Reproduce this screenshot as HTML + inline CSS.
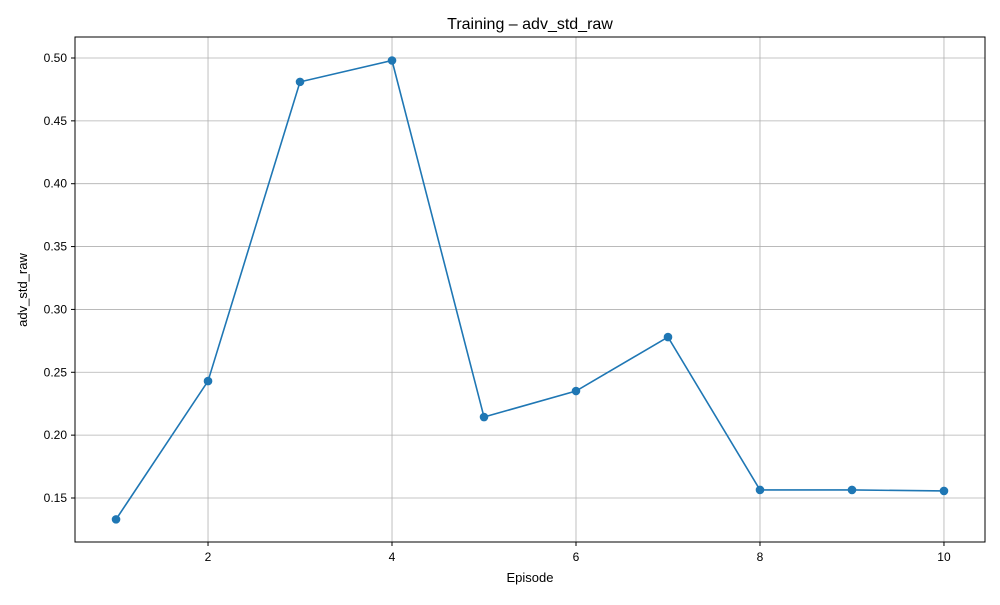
<!DOCTYPE html>
<html><head><meta charset="utf-8"><style>
body{margin:0;background:#fff;font-family:"Liberation Sans","DejaVu Sans",sans-serif}
</style></head><body>
<svg id="chart" width="1000" height="600" xmlns="http://www.w3.org/2000/svg">
<rect width="1000" height="600" fill="#fff"/>
<g id="grid"></g><g id="axes"></g><g id="series"></g>
<text x="530" y="29" text-anchor="middle" font-size="16">Training – adv_std_raw</text>
<text x="530" y="582" text-anchor="middle" font-size="13">Episode</text>
<text x="27" y="290" text-anchor="middle" font-size="13" transform="rotate(-90 27 290)">adv_std_raw</text>
</svg>
<script>
const episodes=[1,2,3,4,5,6,7,8,9,10];
const values=[0.133,0.243,0.481,0.498,0.2144,0.2351,0.278,0.1564,0.1564,0.1556];
const xTicks=[2,4,6,8,10];
const yTicks=[0.15,0.20,0.25,0.30,0.35,0.40,0.45,0.50];
const L=75,R=985,T=37,B=542;
const x0=0.554,x1=10.446,y0=0.1150,y1=0.5167;
const sx=v=>L+(v-x0)/(x1-x0)*(R-L);
const sy=v=>B-(v-y0)/(y1-y0)*(B-T);
const NS="http://www.w3.org/2000/svg";
function mk(t,a,p){const e=document.createElementNS(NS,t);for(const k in a)e.setAttribute(k,a[k]);p.appendChild(e);return e;}
const grid=document.getElementById('grid'),axes=document.getElementById('axes'),ser=document.getElementById('series');
xTicks.forEach(v=>{const x=sx(v);
const g=mk('line',{x1:x,x2:x,y1:T,y2:B,stroke:'#b0b0b0','stroke-width':0.8},grid);

mk('line',{x1:x,x2:x,y1:B,y2:B+4,stroke:'#000'},axes);
const t=mk('text',{x:x,y:B+19,'text-anchor':'middle','font-size':12},axes);t.textContent=v;
});
yTicks.forEach(v=>{const y=sy(v);
const g=mk('line',{x1:L,x2:R,y1:y,y2:y,stroke:'#b0b0b0','stroke-width':0.8},grid);

mk('line',{x1:L-4,x2:L,y1:y,y2:y,stroke:'#000'},axes);
const t=mk('text',{x:L-8,y:y+4,'text-anchor':'end','font-size':12},axes);t.textContent=v.toFixed(2);
});
const fr=mk('rect',{x:L,y:T,width:R-L,height:B-T,fill:'none',stroke:'#000','stroke-width':1},axes);

const pts=episodes.map((e,i)=>sx(e)+','+sy(values[i])).join(' ');
const pl=mk('polyline',{points:pts,fill:'none',stroke:'#1f77b4','stroke-width':1.6},ser);

episodes.forEach((e,i)=>{const c=mk('circle',{cx:sx(e),cy:sy(values[i]),r:4.3,fill:'#1f77b4'},ser);
});
</script>
</body></html>
